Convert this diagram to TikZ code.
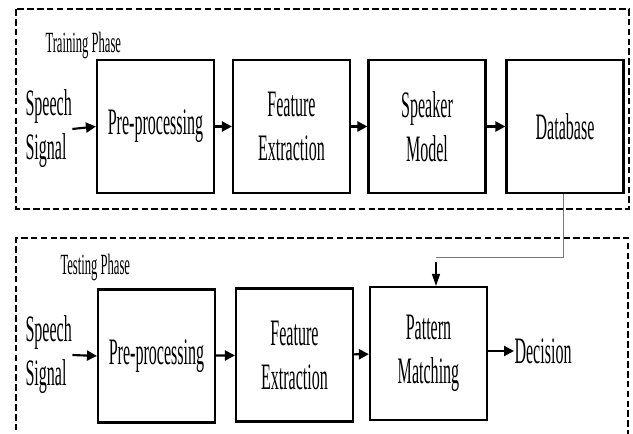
\documentclass[tikz,border=0pt]{standalone}
\usepackage{fontspec}
\setmainfont{Liberation Serif}[FakeStretch=0.43]
\usetikzlibrary{arrows.meta}

\tikzset{every picture/.style={line width=0.75pt}}
\tikzset{
  blk/.style={draw, line width=1.6pt, minimum width=87.75pt, minimum height=99.75pt, inner sep=0pt, align=center, font=\fontsize{28}{33}\selectfont},
  lbl/.style={anchor=west, inner sep=0pt, align=left, font=\fontsize{28}{33}\selectfont},
  phase/.style={anchor=west, inner sep=0pt, font=\fontsize{22}{25}\selectfont},
  arr/.style={line width=1.6pt, -{Triangle[length=7.5pt,width=7.5pt]}},
  phasebox/.style={dashed, line width=1.1pt, dash pattern=on 5pt off 2.4pt},
}

\begin{document}
\begin{tikzpicture}[x=0.75pt,y=0.75pt,yscale=-1,xscale=1]
\useasboundingbox (0,0) rectangle (633,434);

%Shape: Dashed Rect [training]
\draw [phasebox] (16,9) rectangle (629,209) ;
%Shape: Dashed Rect [testing, open at the bottom]
\draw [phasebox] (16,460) -- (16,238) -- (628,238) -- (628,460) ;

% Text Node
\node [phase] (trnlbl) at (45,45) {Training Phase};
% Text Node
\node [phase] (tstlbl) at (60,267) {Testing Phase};

%Training row
\node [lbl] (tsig) at (25,129) {Speech\\Signal};
\node [blk] (tpre) at (155.5,126.5) {Pre-processing};
\node [blk] (tfeat) at (291.5,126.5) {Feature\\Extraction};
\node [blk] (tspk) at (427,126.5) {Speaker\\Model};
\node [blk] (tdb) at (565,126.5) {Database};

%Testing row
\node [lbl] (ssig) at (25,355) {Speech\\Signal};
\node [blk] (spre) at (156.5,356) {Pre-processing};
\node [blk] (sfeat) at (294.5,355) {Feature\\Extraction};
\node [blk] (spat) at (428.5,353.5) {Pattern\\Matching};
\node [lbl] (dec) at (514,351) {Decision};

%Straight Lines
\draw [arr] (tsig.east) -- (tpre.west) ;
\draw [arr] (tpre) -- (tfeat) ;
\draw [arr] (tfeat) -- (tspk) ;
\draw [arr] (tspk) -- (tdb) ;

\draw [arr] (ssig.east) -- (spre.west) ;
\draw [arr] (spre) -- (sfeat) ;
\draw [arr] (sfeat) -- (spat) ;
\draw [arr] (spat.east |- dec.west) -- (dec.west) ;

%Database feeds the matching stage
\coordinate (jn) at (436,257) ;
\draw [color={rgb, 255:red, 120; green, 120; blue, 120 }, line width=0.6pt] ([xshift=-1.5pt]tdb.south) |- (jn) ;
\draw [line width=1pt, -{Triangle[length=9pt,width=6pt]}] ([yshift=4pt]jn) -- (jn |- spat.north) ;

\end{tikzpicture}
\end{document}
